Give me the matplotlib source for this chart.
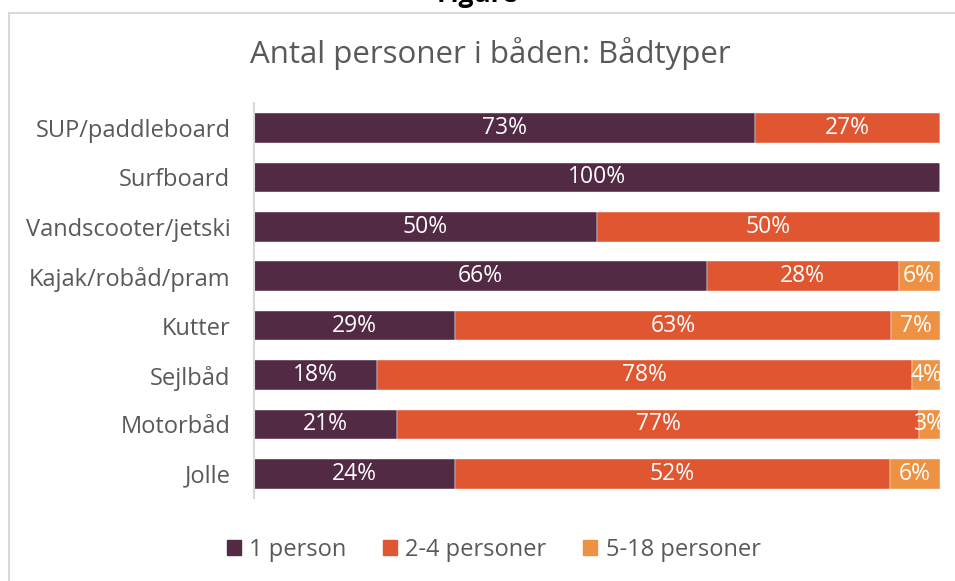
import matplotlib
matplotlib.use("Agg")
import matplotlib.pyplot as plt
import numpy as np
from matplotlib.lines import Line2D
from matplotlib.patches import Rectangle

categories = ["SUP/paddleboard", "Surfboard", "Vandscooter/jetski", "Kajak/robåd/pram",
              "Kutter", "Sejlbåd", "Motorbåd", "Jolle"]
series_names = ["1 person", "2-4 personer", "5-18 personer"]
one_person = [73, 100, 50, 66, 29, 18, 21, 24]
two_four = [27, 0, 50, 28, 63, 78, 77, 52]
five_eighteen = [0, 0, 0, 6, 7, 4, 3, 6]
colors = ["#522A44", "#E05630", "#EE9142"]

plt.rcParams['font.family'] = ['Open Sans', 'DejaVu Sans']

fig = plt.figure(figsize=(9.55, 5.81), dpi=100)
ax = fig.add_axes([0.266, 0.142, 0.718, 0.680])

vals = np.array([one_person, two_four, five_eighteen], dtype=float)
totals = vals.sum(axis=0)
shares = vals / totals
y = np.arange(len(categories))
left = np.zeros(len(categories))
for i, name in enumerate(series_names):
    ax.barh(y, shares[i], left=left, height=0.6, color=colors[i], label=name,
            edgecolor='white', linewidth=0.3)
    for j in range(len(categories)):
        if vals[i, j] > 0:
            ax.text(left[j] + shares[i, j] / 2, y[j], f"{int(vals[i, j])}%",
                    ha='center', va='center', color='white', fontsize=16.5)
    left += shares[i]

ax.set_xlim(0, 1)
ax.set_ylim(len(categories) - 0.5, -0.5)
ax.set_yticks(y)
ax.set_yticklabels(categories, fontsize=17, color='#595959')
ax.tick_params(axis='y', length=0, pad=17)
ax.set_xticks([])
for s in ['top', 'right', 'bottom']:
    ax.spines[s].set_visible(False)
ax.spines['left'].set_color('#D9D9D9')
ax.spines['left'].set_linewidth(1.5)

fig.text(0.513, 0.908, "Antal personer i båden: Bådtyper", ha='center', va='center',
         fontsize=22.5, color='#595959')

# outer frame lines (top and left)
fig.add_artist(Line2D([9 / 955, 1.0], [1 - 12.5 / 581, 1 - 12.5 / 581],
                      transform=fig.transFigure, color='#D9D9D9', lw=1.5))
fig.add_artist(Line2D([9 / 955, 9 / 955], [1 - 12.5 / 581, 0],
                      transform=fig.transFigure, color='#D9D9D9', lw=1.5))
fig.text(0.5, 1.009, "Figure", ha='center', va='center', fontsize=19,
         fontweight='bold', color='black')

handles = [Rectangle((0, 0), 1, 1, color=c) for c in colors]
fig.legend(handles, series_names, loc='center', bbox_to_anchor=(0.517, 0.053), ncol=3,
           frameon=False, fontsize=17, handlelength=0.6, handleheight=0.6,
           handletextpad=0.35, columnspacing=1.55, labelcolor='#595959')

fig.savefig("out.png", dpi=100)
